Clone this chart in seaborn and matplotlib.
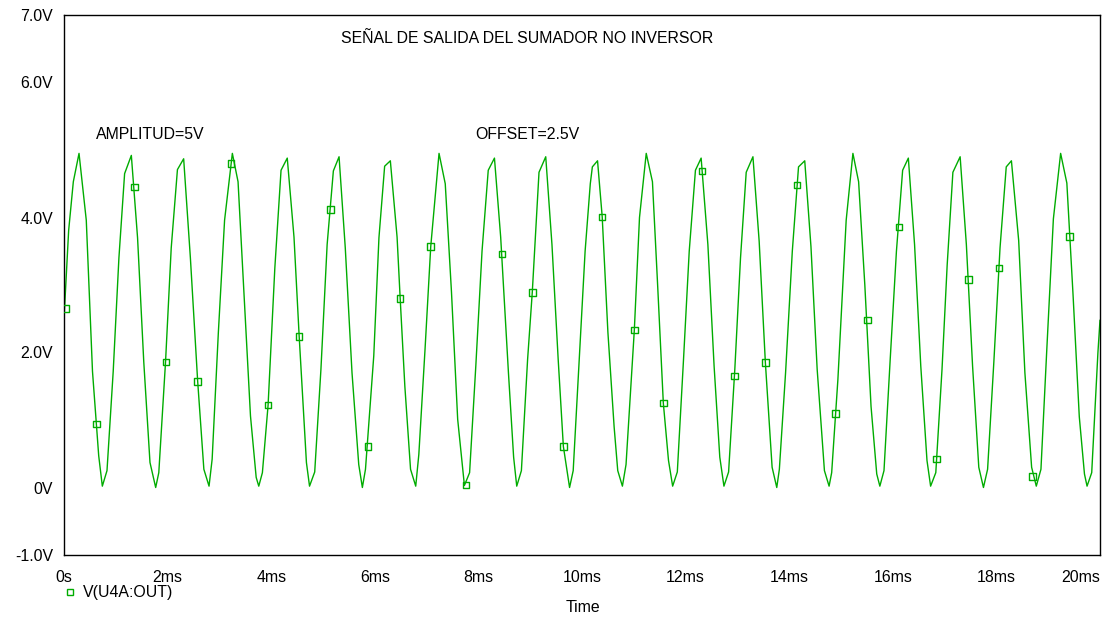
import numpy as np
import pandas as pd
import matplotlib
matplotlib.use("Agg")
import matplotlib.pyplot as plt
from matplotlib.lines import Line2D
import seaborn as sns

# trace vertices (time in ms, volts)
time_ms = [
    0.00, 0.09, 0.18, 0.29, 0.43, 0.55, 0.67, 0.74, 0.83, 0.95,
    1.06, 1.17, 1.30, 1.42, 1.54, 1.66, 1.77, 1.83, 1.96,
    2.07, 2.19, 2.31, 2.44, 2.58, 2.70, 2.80, 2.86, 2.98,
    3.10, 3.25, 3.36, 3.48, 3.60, 3.71, 3.76, 3.83, 3.94,
    4.07, 4.19, 4.31, 4.44, 4.54, 4.68, 4.74, 4.84, 4.96,
    5.08, 5.20, 5.31, 5.43, 5.56, 5.69, 5.76, 5.82, 5.98,
    6.08, 6.19, 6.30, 6.43, 6.49, 6.58, 6.69, 6.79, 6.85, 6.97,
    7.08, 7.24, 7.36, 7.48, 7.60, 7.73, 7.83, 7.95,
    8.07, 8.19, 8.31, 8.43, 8.58, 8.68, 8.74, 8.83, 8.95, 9.04,
    9.17, 9.30, 9.42, 9.54, 9.64, 9.76, 9.83, 9.95,
    10.06, 10.16, 10.20, 10.30, 10.39, 10.50, 10.62, 10.69, 10.78, 10.85, 11.01,
    11.11, 11.24, 11.36, 11.46, 11.57, 11.67, 11.75, 11.84, 11.96,
    12.07, 12.19, 12.30, 12.43, 12.55, 12.66, 12.74, 12.83, 12.95,
    13.06, 13.17, 13.30, 13.42, 13.54, 13.67, 13.76, 13.81, 13.93,
    14.06, 14.18, 14.30, 14.42, 14.54, 14.68, 14.77, 14.82, 14.94,
    15.10, 15.23, 15.34, 15.46, 15.58, 15.69, 15.75, 15.83, 15.95,
    16.07, 16.19, 16.30, 16.42, 16.54, 16.66, 16.73, 16.83, 16.95,
    17.05, 17.16, 17.30, 17.42, 17.54, 17.66, 17.75, 17.83, 17.95,
    18.07, 18.19, 18.29, 18.43, 18.55, 18.68, 18.77, 18.86, 18.97,
    19.10, 19.24, 19.36, 19.48, 19.60, 19.70, 19.75, 19.84, 19.96, 20.00,
]
volts = [
    2.50, 3.81, 4.53, 4.95, 3.96, 1.72, 0.47, 0.02, 0.25, 1.72,
    3.40, 4.65, 4.92, 3.70, 1.86, 0.37, 0.00, 0.22, 1.86,
    3.55, 4.71, 4.87, 3.40, 1.58, 0.27, 0.02, 0.42, 2.30,
    3.96, 4.95, 4.53, 2.80, 1.06, 0.15, 0.02, 0.22, 1.22,
    3.25, 4.70, 4.88, 3.71, 2.24, 0.37, 0.02, 0.23, 1.75,
    3.60, 4.69, 4.90, 3.55, 1.70, 0.34, 0.00, 0.27, 1.95,
    3.70, 4.76, 4.84, 3.71, 2.80, 1.50, 0.27, 0.02, 0.49, 2.05,
    3.57, 4.95, 4.50, 2.90, 1.01, 0.03, 0.22, 1.80,
    3.50, 4.70, 4.88, 3.71, 1.70, 0.45, 0.02, 0.25, 1.90, 2.89,
    4.67, 4.90, 3.60, 1.90, 0.61, 0.00, 0.25, 1.95,
    3.50, 4.50, 4.75, 4.84, 4.01, 2.30, 0.90, 0.25, 0.02, 0.34, 2.33,
    4.00, 4.95, 4.53, 3.00, 1.25, 0.40, 0.02, 0.23, 1.90,
    3.50, 4.70, 4.88, 3.60, 1.80, 0.45, 0.02, 0.23, 1.75,
    3.40, 4.67, 4.90, 3.65, 1.85, 0.30, 0.00, 0.27, 1.70,
    3.50, 4.75, 4.84, 3.57, 1.75, 0.25, 0.02, 0.22, 1.60,
    3.96, 4.95, 4.53, 3.00, 1.20, 0.20, 0.02, 0.25, 1.90,
    3.50, 4.70, 4.88, 3.60, 1.80, 0.40, 0.02, 0.22, 1.75,
    3.30, 4.67, 4.90, 3.60, 1.80, 0.30, 0.00, 0.27, 1.85,
    3.55, 4.75, 4.84, 3.66, 1.70, 0.30, 0.02, 0.27, 2.00,
    3.98, 4.95, 4.51, 2.85, 1.05, 0.20, 0.02, 0.22, 2.00, 2.48,
]

# square markers PSpice puts on the trace
marker_ms = [0.03, 0.63, 1.36, 1.97, 2.58, 3.22, 3.94, 4.54, 5.14, 5.87,
             6.49, 7.08, 7.76, 8.46, 9.04, 9.64, 10.39, 11.01, 11.57, 12.32,
             12.94, 13.54, 14.15, 14.89, 15.51, 16.12, 16.84, 17.46, 18.05,
             18.70, 19.41]
marker_v = [2.65, 0.94, 4.45, 1.86, 1.57, 4.80, 1.22, 2.24, 4.12, 0.61,
            2.80, 3.57, 0.04, 3.46, 2.89, 0.61, 4.01, 2.33, 1.25, 4.69,
            1.65, 1.85, 4.48, 1.10, 2.48, 3.86, 0.42, 3.08, 3.25,
            0.16, 3.72]

y_ticks = [-1, 0, 2, 4, 6, 7]
y_labels = ["-1.0V", "0V", "2.0V", "4.0V", "6.0V", "7.0V"]
x_ticks = [0, 2, 4, 6, 8, 10, 12, 14, 16, 18, 20]
x_labels = ["0s"] + [f"{t}ms" for t in x_ticks[1:]]

GREEN = "#00ac00"
FS = 11.4

sns.set_style("white")
plt.rcParams["font.family"] = ["Liberation Sans", "DejaVu Sans"]
plt.rcParams["text.color"] = "black"

fig = plt.figure(figsize=(11.06, 6.17), dpi=100)
ax = fig.add_axes([64 / 1106, 1 - 555 / 617, (1100 - 64) / 1106, 540 / 617])

trace = pd.DataFrame({"t": time_ms, "v": volts})
sns.lineplot(data=trace, x="t", y="v", color=GREEN, linewidth=1.0,
             estimator=None, sort=False, ax=ax)
sns.scatterplot(x=marker_ms, y=marker_v, marker="s", s=22,
                facecolor="none", edgecolor=GREEN, linewidth=1.0, ax=ax, zorder=3)

ax.set_xlim(0, 20)
ax.set_ylim(-1, 7)
ax.set_xticks(x_ticks)
ax.set_xticklabels(x_labels)
ax.set_yticks(y_ticks)
ax.set_yticklabels(y_labels)
ax.tick_params(axis="x", direction="in", length=5, width=1, pad=11, labelsize=FS,
               colors="black")
ax.tick_params(axis="y", direction="inout", length=8, width=1, pad=4, labelsize=FS,
               colors="black")
# PSpice pulls the last time label inside the frame
ax.get_xticklabels()[-1].set_horizontalalignment("right")
for sp in ax.spines.values():
    sp.set_color("black")
    sp.set_linewidth(1.0)
ax.set_xlabel("")
ax.set_ylabel("")

ax.text(5.34, 6.65, "SEÑAL DE SALIDA DEL SUMADOR NO INVERSOR", fontsize=FS, va="center", ha="left")
ax.text(0.62, 5.23, "AMPLITUD=5V", fontsize=FS, va="center", ha="left")
ax.text(7.94, 5.23, "OFFSET=2.5V", fontsize=FS, va="center", ha="left")

fig.text(583 / 1106, 1 - 608 / 617, "Time", fontsize=FS, ha="center", va="center")
fig.add_artist(Line2D([70 / 1106], [1 - 592 / 617], marker="s", markersize=4,
                      markerfacecolor="none", markeredgecolor=GREEN, linestyle="none",
                      transform=fig.transFigure))
fig.text(83 / 1106, 1 - 592 / 617, "V(U4A:OUT)", fontsize=FS, ha="left", va="center")

fig.savefig("out.png", dpi=100)
